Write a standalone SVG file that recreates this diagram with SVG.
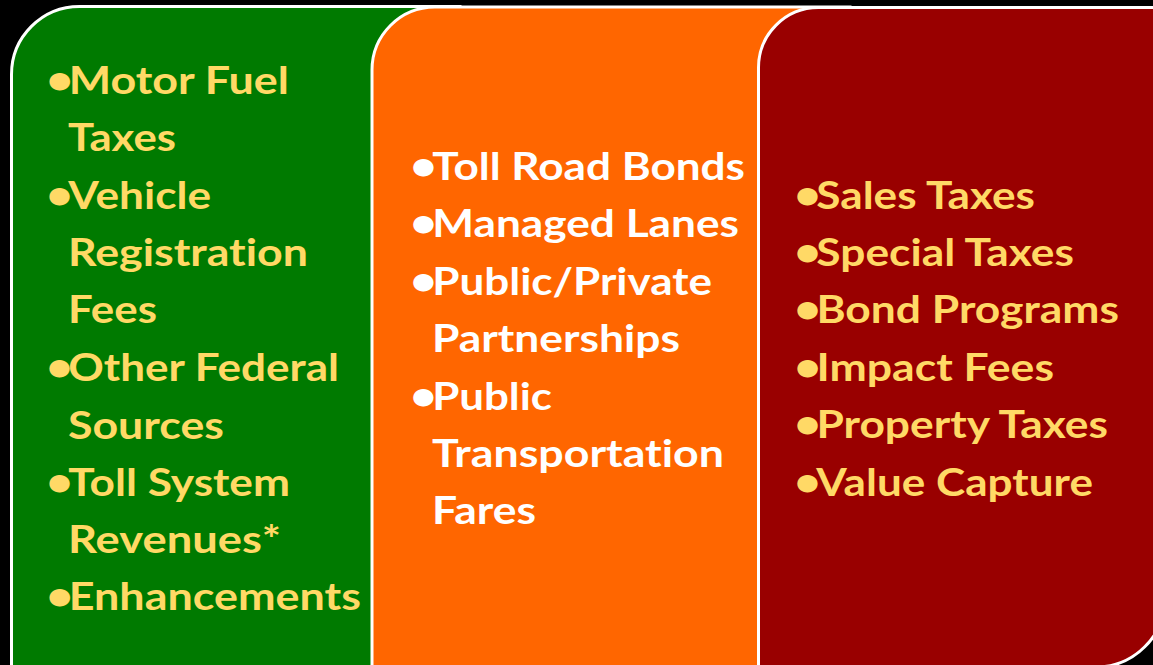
<svg xmlns="http://www.w3.org/2000/svg" width="1153" height="665" viewBox="0 0 1153 665">
<style>
.panel{stroke:#FFFFFF;stroke-width:3}
.t{font-family:Lato,"Open Sans","Liberation Sans",sans-serif;font-weight:bold;font-size:38px;font-variant-ligatures:none;font-feature-settings:"liga" 0,"clig" 0}
.y{fill:#FFD966}
.w{fill:#FFFFFF}
.b{font-size:40px;letter-spacing:-4px}
</style>
<rect x="0" y="0" width="1153" height="665" fill="#000000"/>
<g id="federal">
<path class="panel" fill="#007A00" d="M11.5,74.5 A68,68 0 0 1 79.5,6.5 H460 V598 A69,69 0 0 1 391,667 H11.5 Z"/>
<text class="t y" x="46" y="93.5" textLength="243" lengthAdjust="spacingAndGlyphs"><tspan class="b">•</tspan>Motor Fuel</text>
<text class="t y" x="68" y="151" textLength="108" lengthAdjust="spacingAndGlyphs">Taxes</text>
<text class="t y" x="46" y="208.5" textLength="165" lengthAdjust="spacingAndGlyphs"><tspan class="b">•</tspan>Vehicle</text>
<text class="t y" x="68" y="266" textLength="240" lengthAdjust="spacingAndGlyphs">Registration</text>
<text class="t y" x="68" y="323" textLength="89" lengthAdjust="spacingAndGlyphs">Fees</text>
<text class="t y" x="46" y="381" textLength="293" lengthAdjust="spacingAndGlyphs"><tspan class="b">•</tspan>Other Federal</text>
<text class="t y" x="68" y="439" textLength="156" lengthAdjust="spacingAndGlyphs">Sources</text>
<text class="t y" x="46" y="495.5" textLength="244" lengthAdjust="spacingAndGlyphs"><tspan class="b">•</tspan>Toll System</text>
<text class="t y" x="68" y="552.5" textLength="213" lengthAdjust="spacingAndGlyphs">Revenues*</text>
<text class="t y" x="46" y="610" textLength="315" lengthAdjust="spacingAndGlyphs"><tspan class="b">•</tspan>Enhancements</text>
</g>
<g id="tolling">
<path class="panel" fill="#FF6600" d="M372,70 A63,63 0 0 1 435,7 H850 V598 A69,69 0 0 1 781,667 H372 Z"/>
<text class="t w" x="410" y="180" textLength="335" lengthAdjust="spacingAndGlyphs"><tspan class="b">•</tspan>Toll Road Bonds</text>
<text class="t w" x="410" y="237.4" textLength="329" lengthAdjust="spacingAndGlyphs"><tspan class="b">•</tspan>Managed Lanes</text>
<text class="t w" x="410" y="294.8" textLength="302" lengthAdjust="spacingAndGlyphs"><tspan class="b">•</tspan>Public/Private</text>
<text class="t w" x="432" y="352" textLength="248" lengthAdjust="spacingAndGlyphs">Partnerships</text>
<text class="t w" x="410" y="409.5" textLength="142" lengthAdjust="spacingAndGlyphs"><tspan class="b">•</tspan>Public</text>
<text class="t w" x="432" y="467" textLength="292" lengthAdjust="spacingAndGlyphs">Transportation</text>
<text class="t w" x="432" y="523.5" textLength="104" lengthAdjust="spacingAndGlyphs">Fares</text>
</g>
<g id="local">
<path class="panel" fill="#990000" d="M758.5,67.5 A60,60 0 0 1 818.5,7.5 H1165 V598 A69,69 0 0 1 1096,667 H758.5 Z"/>
<text class="t y" x="794" y="208.5" textLength="241" lengthAdjust="spacingAndGlyphs"><tspan class="b">•</tspan>Sales Taxes</text>
<text class="t y" x="794" y="266" textLength="280" lengthAdjust="spacingAndGlyphs"><tspan class="b">•</tspan>Special Taxes</text>
<text class="t y" x="794" y="323.3" textLength="325" lengthAdjust="spacingAndGlyphs"><tspan class="b">•</tspan>Bond Programs</text>
<text class="t y" x="794" y="380.7" textLength="260" lengthAdjust="spacingAndGlyphs"><tspan class="b">•</tspan>Impact Fees</text>
<text class="t y" x="794" y="438.3" textLength="314" lengthAdjust="spacingAndGlyphs"><tspan class="b">•</tspan>Property Taxes</text>
<text class="t y" x="794" y="495.5" textLength="299" lengthAdjust="spacingAndGlyphs"><tspan class="b">•</tspan>Value Capture</text>
</g>
</svg>
